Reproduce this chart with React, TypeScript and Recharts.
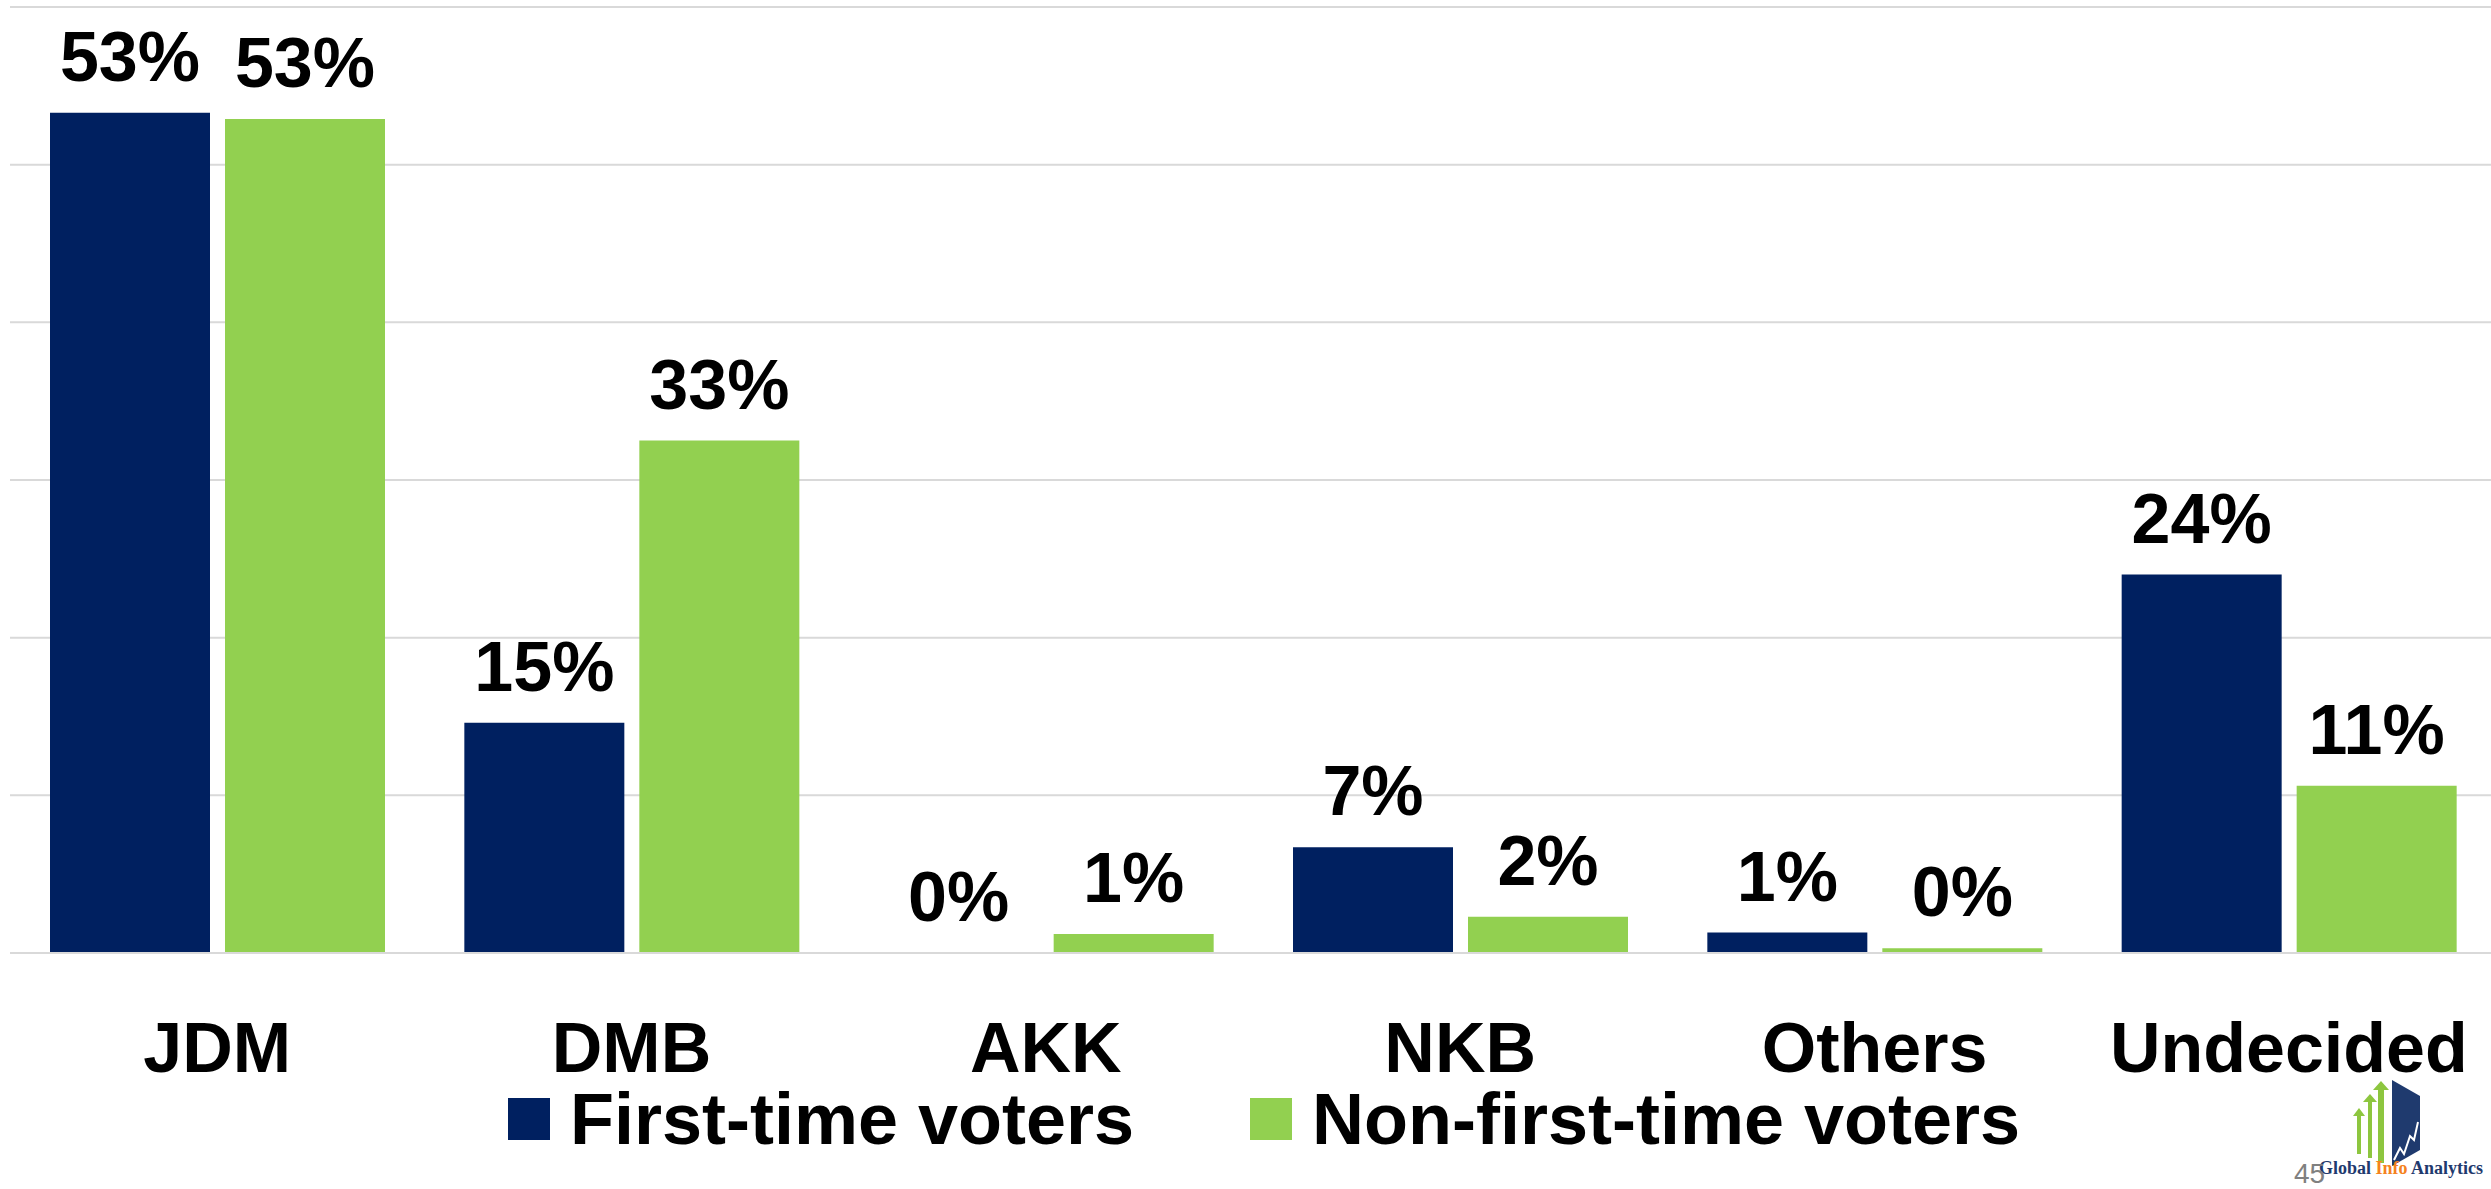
import { BarChart, Bar, XAxis, YAxis, CartesianGrid, LabelList } from "recharts";

const categories = ["JDM", "DMB", "AKK", "NKB", "Others", "Undecided"];
const firstTime = [53.3, 14.6, 0, 6.7, 1.3, 24.0];
const nonFirstTime = [52.9, 32.5, 1.2, 2.3, 0.3, 10.6];
const seriesNames = ["First-time voters", "Non-first-time voters"];
const yTicks = [0, 10, 20, 30, 40, 50, 60];

const NAVY = "#002060";
const GREEN = "#92D050";
const FONT = "'Liberation Sans', Arial, sans-serif";

const data = categories.map((name, i) => ({
  name,
  first: firstTime[i],
  nonFirst: nonFirstTime[i],
}));

const pct = (v: unknown) => `${Math.round(Number(v))}%`;
const labelStyle = { fill: "#000", fontSize: 70, fontWeight: "bold", fontFamily: FONT };

function Logo() {
  return (
    <div style={{ position: "absolute", left: 2290, top: 1078, width: 200, height: 111 }}>
      <svg width={200} height={111}>
        {/* arrows */}
        <polygon points="63,38 69,30 75,38 71,38 71,76 67,76 67,38" fill="#8DC63F" />
        <polygon points="73,24 80,16 87,24 82,24 82,80 78,80 78,24" fill="#8DC63F" />
        <polygon points="83,12 91,3 99,12 94,12 94,85 88,85 88,12" fill="#8DC63F" />
        {/* panel */}
        <polygon points="102,2 130,18 130,72 102,88" fill="#1F3A6E" />
        <polyline points="104,82 110,70 114,76 120,58 124,62 128,44" fill="none" stroke="#fff" strokeWidth={2} />
        <text x={29} y={96} fontFamily="'Liberation Serif', serif" fontWeight="bold" fontSize={18}>
          <tspan fill="#1F3A6E">Global </tspan>
          <tspan fill="#F58220">Info </tspan>
          <tspan fill="#1F3A6E">Analytics</tspan>
        </text>
        <text x={4} y={105} fontFamily={FONT} fontSize={28} fill="#808080">45</text>
      </svg>
    </div>
  );
}

function LegendBox() {
  const colors = [NAVY, GREEN];
  const lefts = [508, 1250];
  return (
    <>
      {seriesNames.map((s, i) => (
        <div
          key={s}
          style={{
            position: "absolute",
            left: lefts[i],
            top: 1078,
            display: "flex",
            alignItems: "center",
            fontFamily: FONT,
            fontWeight: "bold",
            fontSize: 72,
            color: "#000",
            whiteSpace: "nowrap",
          }}
        >
          <span style={{ width: 42, height: 42, background: colors[i], marginRight: 20, display: "inline-block" }} />
          {s}
        </div>
      ))}
    </>
  );
}

export default function App() {
  return (
    <div style={{ position: "relative", width: 2491, height: 1189, overflow: "hidden", background: "#fff" }}>
      <style>{"body{margin:0}"}</style>
      <BarChart
        width={2496}
        height={1189}
        data={data}
        margin={{ top: 7, right: 0, left: 10, bottom: 0 }}
        barSize={160}
        barGap={15}
      >
        <CartesianGrid vertical={false} stroke="#D9D9D9" strokeWidth={2} />
        <YAxis hide width={0} domain={[0, 60]} ticks={yTicks} />
        <XAxis
          dataKey="name"
          height={236}
          tickLine={false}
          tickSize={0}
          tickMargin={69}
          axisLine={{ stroke: "#D9D9D9", strokeWidth: 2 }}
          tick={{ fill: "#000", fontSize: 70, fontWeight: "bold", fontFamily: FONT }}
          interval={0}
        />
        <Bar dataKey="first" name={seriesNames[0]} fill={NAVY} minPointSize={0.01} isAnimationActive={false}>
          <LabelList dataKey="first" position="top" offset={32} formatter={pct} style={labelStyle} />
        </Bar>
        <Bar dataKey="nonFirst" name={seriesNames[1]} fill={GREEN} minPointSize={0.01} isAnimationActive={false}>
          <LabelList dataKey="nonFirst" position="top" offset={32} formatter={pct} style={labelStyle} />
        </Bar>
      </BarChart>
      <LegendBox />
      <Logo />
    </div>
  );
}
